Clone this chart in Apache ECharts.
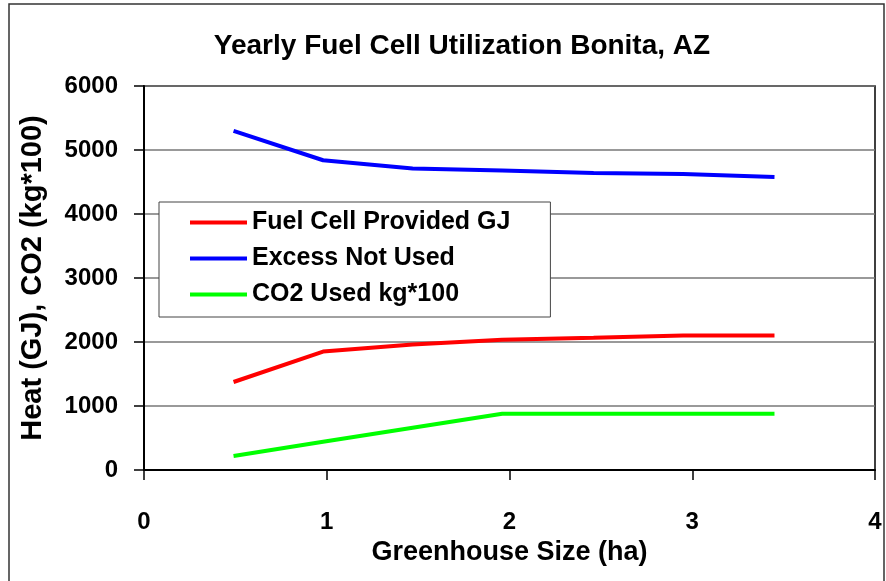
<!DOCTYPE html>
<html>
<head>
<meta charset="utf-8">
<script src="https://cdn.jsdelivr.net/npm/echarts@6/dist/echarts.min.js"></script>
<style>
  html, body { margin: 0; padding: 0; background: #fff; }
  #chart { width: 886px; height: 581px; }
</style>
</head>
<body>
<div id="chart"></div>
<script>
// greenhouse size (ha)
const sizes = [0.49, 0.98, 1.47, 1.96, 2.46, 2.95, 3.45]
// yearly values
const fuelCellProvided = [1375, 1850, 1960, 2035, 2065, 2100, 2100]
const excessNotUsed = [5300, 4840, 4710, 4680, 4640, 4625, 4580]
const co2Used = [220, 440, 660, 880, 880, 880, 880]

const seriesNames = ['Fuel Cell Provided GJ', 'Excess Not Used', 'CO2 Used kg*100']
const seriesColors = ['#ff0000', '#0000ff', '#00ff00']
const seriesValues = [fuelCellProvided, excessNotUsed, co2Used]

const fontFamily = '"Liberation Sans", Arial, sans-serif'

const toPoints = (values) => values.map((v, i) => [sizes[i], v])

const option = {
  animation: false,
  backgroundColor: '#fff',
  textStyle: { fontFamily: fontFamily },
  title: {
    text: 'Yearly Fuel Cell Utilization Bonita, AZ',
    left: 457,
    top: 27,
    textAlign: 'center',
    textStyle: {
      fontSize: 28,
      fontWeight: 'bold',
      color: '#000',
      fontFamily: fontFamily
    }
  },
  graphic: [
    {
      type: 'rect',
      shape: { x: 9, y: 4, width: 875, height: 590 },
      style: { fill: null, stroke: '#333', lineWidth: 1.5 },
      silent: true
    }
  ],
  legend: {
    orient: 'vertical',
    left: 159,
    top: 202,
    padding: [8, 40, 10, 31],
    itemGap: 11,
    itemWidth: 57,
    itemHeight: 4,
    icon: 'rect',
    backgroundColor: '#fff',
    borderColor: '#444',
    borderWidth: 1,
    textStyle: {
      fontSize: 25,
      fontWeight: 'bold',
      color: '#000',
      fontFamily: fontFamily
    },
    data: seriesNames
  },
  grid: {
    left: 144,
    right: 11,
    top: 86,
    bottom: 111,
    show: true,
    borderColor: '#000',
    borderWidth: 1.5
  },
  xAxis: {
    type: 'value',
    min: 0,
    max: 4,
    interval: 1,
    name: 'Greenhouse Size (ha)',
    nameLocation: 'middle',
    nameGap: 63,
    nameTextStyle: {
      fontSize: 27,
      fontWeight: 'bold',
      color: '#000'
    },
    axisLine: { lineStyle: { color: '#000', width: 2 } },
    axisTick: { show: true, inside: false, length: 10, lineStyle: { color: '#000', width: 1.5 } },
    axisLabel: {
      margin: 40,
      fontSize: 24,
      fontWeight: 'bold',
      color: '#000'
    },
    splitLine: { show: false }
  },
  yAxis: {
    type: 'value',
    min: 0,
    max: 6000,
    interval: 1000,
    name: 'Heat (GJ), CO2 (kg*100)',
    nameLocation: 'middle',
    nameGap: 97,
    nameTextStyle: {
      fontSize: 29,
      fontWeight: 'bold',
      color: '#000'
    },
    axisLine: { show: true, lineStyle: { color: '#000', width: 2 } },
    axisTick: { show: true, inside: false, length: 10, lineStyle: { color: '#000', width: 1.5 } },
    axisLabel: {
      margin: 26,
      fontSize: 24,
      fontWeight: 'bold',
      color: '#000',
      formatter: (v) => String(v)
    },
    splitLine: { show: true, lineStyle: { color: '#777', width: 1.5 } }
  },
  series: seriesNames.map((name, i) => ({
    name: name,
    type: 'line',
    symbol: 'none',
    color: seriesColors[i],
    lineStyle: { width: 4, color: seriesColors[i] },
    data: toPoints(seriesValues[i])
  }))
}

const chart = echarts.init(document.getElementById('chart'))
chart.setOption(option)
</script>
</body>
</html>
